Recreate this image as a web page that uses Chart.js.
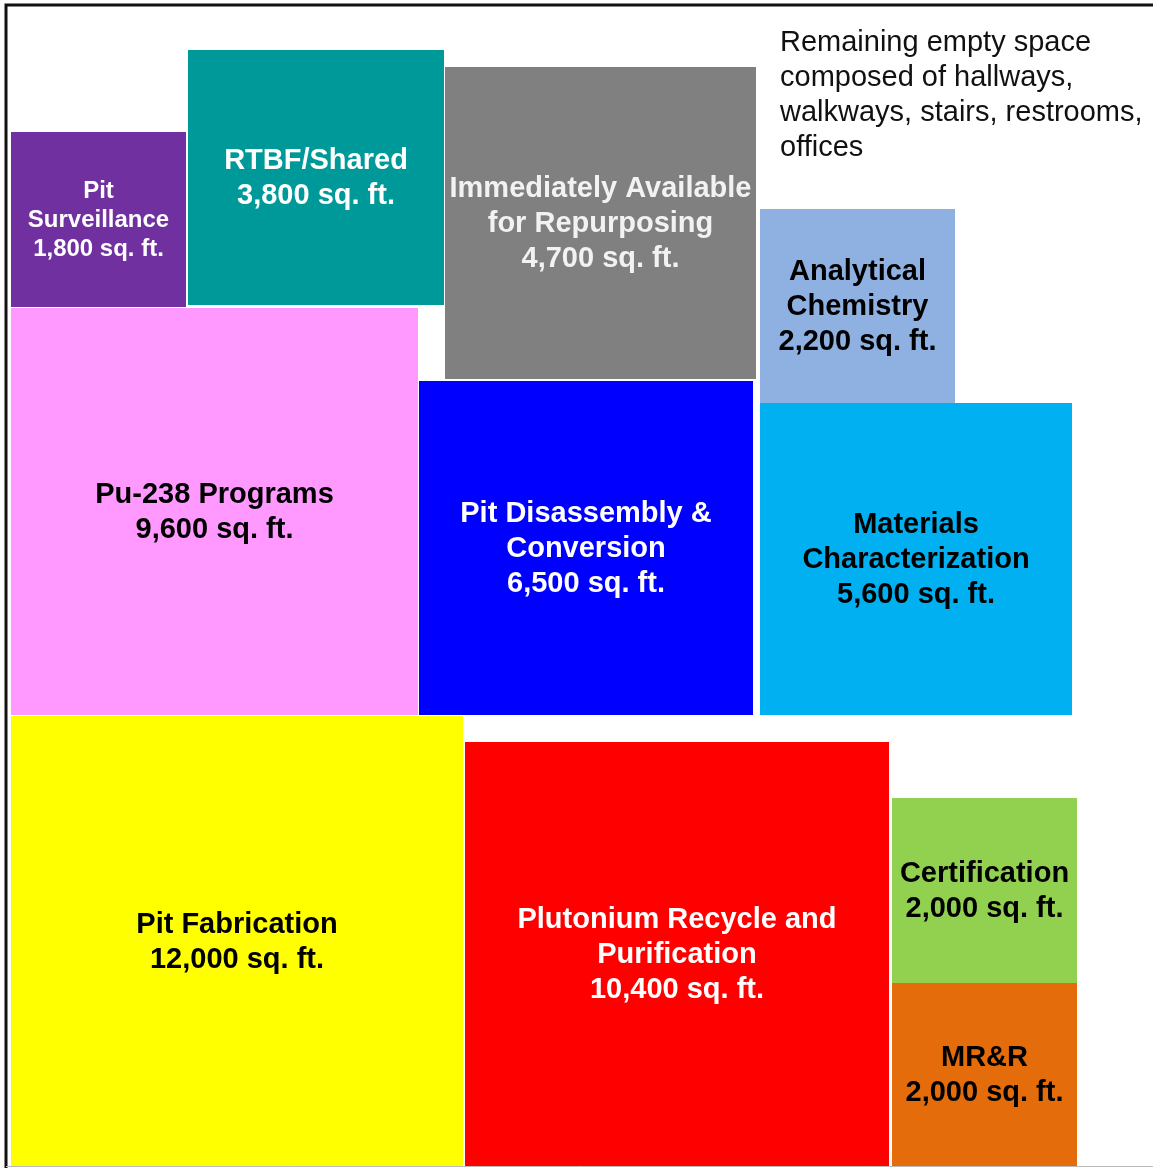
<!DOCTYPE html>
<html>
<head>
<meta charset="utf-8">
<script src="https://cdn.jsdelivr.net/npm/chart.js@4.4.1/dist/chart.umd.min.js"></script>
<style>
html,body{margin:0;padding:0;background:#fff;}
#wrap{width:1153px;height:1168px;position:relative;}
</style>
</head>
<body>
<div id="wrap"><canvas id="c"></canvas></div>
<script>
// floor space blocks (layout units = reference px, y grows downward)
const blockNames=['Pit\nSurveillance','RTBF/Shared','Immediately Available\nfor Repurposing','Analytical\nChemistry','Pu-238 Programs','Pit Disassembly &\nConversion','Materials\nCharacterization','Pit Fabrication','Plutonium Recycle and\nPurification','Certification','MR&R'];
const blockAreas=[1800,3800,4700,2200,9600,6500,5600,12000,10400,2000,2000];
const blockLeft=[11,188,445,760,11,419,760,11,465,892,892];
const blockRight=[186,444,756,955,418,753,1072,463,889,1077,1077];
const blockTop=[132,50,67,209,308,381,403,716,742,798,983];
const blockBottom=[307,305,379,403,715,715,715,1166,1166,983,1166];
const note=['Remaining empty space','composed of hallways,','walkways, stairs, restrooms,','offices'];

const fills=['#7030A0','#009999','#808080','#8EB1E2','#FF99FF','#0000FF','#00B0F0','#FFFF00','#FF0000','#92D050','#E46C0A'];
const inks=['#fff','#fff','#f2f2f2','#000','#000','#fff','#000','#000','#fff','#000','#000'];

const datasets=blockNames.map((n,i)=>({
  label:n.replace('\n',' '),
  data:[{x:blockLeft[i],y:blockTop[i]},{x:blockRight[i],y:blockTop[i]}],
  fill:{value:blockBottom[i]},
  backgroundColor:fills[i],
  borderColor:'rgba(0,0,0,0)',
  borderWidth:0,
  pointRadius:0,
  tension:0
}));

const blockText={
  id:'blockText',
  afterDatasetsDraw(chart){
    const {ctx,scales:{x,y}}=chart;
    ctx.save();
    ctx.textAlign='center';ctx.textBaseline='middle';
    blockNames.forEach((n,i)=>{
      const lines=n.split('\n').concat([blockAreas[i].toLocaleString('en-US')+' sq. ft.']);
      const small=i===0;
      const lh=small?29:35;
      ctx.font='bold '+(small?24:29)+'px "Liberation Sans", Arial, sans-serif';
      ctx.fillStyle=inks[i];
      const cx=x.getPixelForValue((blockLeft[i]+blockRight[i])/2);
      const cy=y.getPixelForValue((blockTop[i]+blockBottom[i])/2);
      lines.forEach((t,k)=>ctx.fillText(t,cx,cy+(k-(lines.length-1)/2)*lh+1));
    });
    // note about remaining space
    ctx.textAlign='left';
    ctx.font='29px "Liberation Sans", Arial, sans-serif';
    ctx.fillStyle='#111';
    note.forEach((t,k)=>ctx.fillText(t,x.getPixelForValue(780),y.getPixelForValue(43+k*35)));
    // frame
    ctx.strokeStyle='#111';ctx.lineWidth=3;
    ctx.beginPath();
    ctx.moveTo(x.getPixelForValue(6),y.getPixelForValue(1168));
    ctx.lineTo(x.getPixelForValue(6),y.getPixelForValue(5));
    ctx.lineTo(x.getPixelForValue(1153),y.getPixelForValue(5));
    ctx.stroke();
    ctx.strokeStyle='#bbb';ctx.lineWidth=1;
    ctx.beginPath();
    ctx.moveTo(x.getPixelForValue(6),y.getPixelForValue(1166.5));
    ctx.lineTo(x.getPixelForValue(1153),y.getPixelForValue(1166.5));
    ctx.stroke();
    ctx.restore();
  }
};

new Chart(document.getElementById('c'),{
  type:'line',
  data:{datasets},
  options:{
    responsive:true,maintainAspectRatio:false,animation:false,
    layout:{padding:0},
    scales:{
      x:{type:'linear',min:0,max:1153,display:false},
      y:{type:'linear',min:0,max:1168,reverse:true,display:false}
    },
    plugins:{legend:{display:false},tooltip:{enabled:false}}
  },
  plugins:[blockText]
});
</script>
</body>
</html>
